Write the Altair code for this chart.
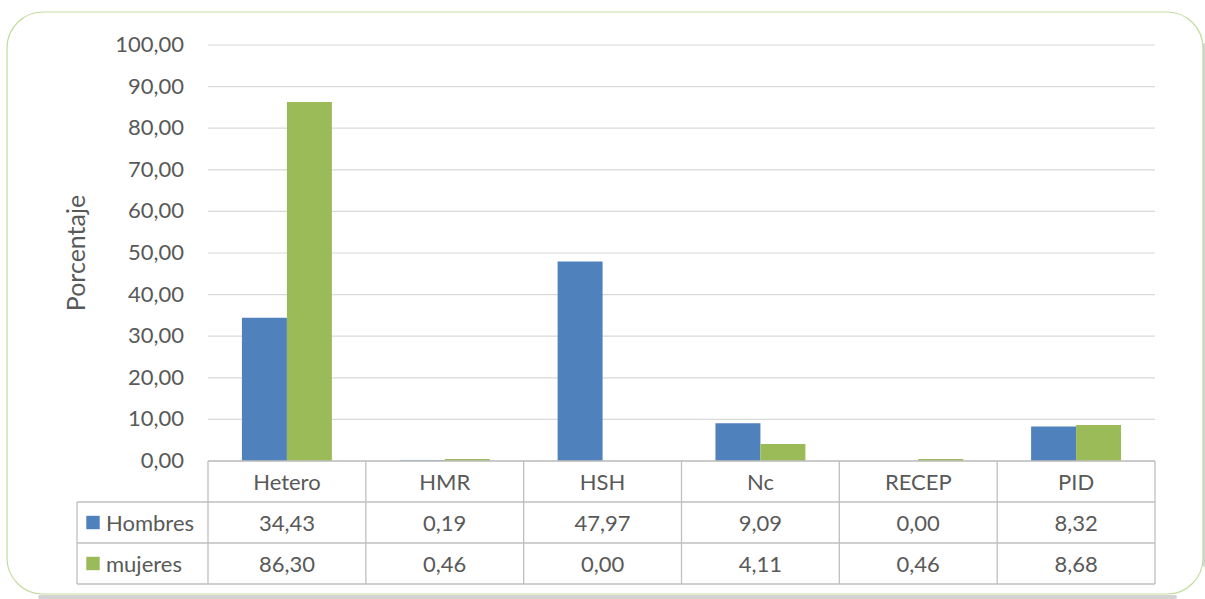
import altair as alt
import pandas as pd

# Categories and the two series shown in the chart and in its data table
categories = ["Hetero", "HMR", "HSH", "Nc", "RECEP", "PID"]
series = ["Hombres", "mujeres"]
hombres = [34.43, 0.19, 47.97, 9.09, 0.00, 8.32]
mujeres = [86.30, 0.46, 0.00, 4.11, 0.46, 8.68]
y_ticks = [0, 10, 20, 30, 40, 50, 60, 70, 80, 90, 100]
y_title = "Porcentaje"

# Styling
colors = ["#4F81BD", "#9BBB59"]
FONT = "Lato"
TEXT = "#595959"
LINE = "#BFBFBF"
GRID = "#D9D9D9"
W, H = 947, 416            # plot area
PAD_L, PAD_T = 208, 45

# Layout of each category slot (one x unit): outer gap, then two bars side by side
GAP = 0.215
BAR = 0.285
# Data table: row height in pixels expressed in y-axis units; label column width in slots
ROW = 41 * 100 / H
LABEL_LEFT = -0.83

n = len(categories)
xs = alt.Scale(domain=[0, n], nice=False, zero=False)
ys = alt.Scale(domain=[0, 100], nice=False, zero=False)
cs = alt.Scale(domain=series, range=colors)

def fmt(v):
    return f"{v:.2f}".replace(".", ",")

bars_df = pd.DataFrame(
    [{"cat": c, "series": s, "value": v,
      "x0": i + GAP + k * BAR, "x1": i + GAP + (k + 1) * BAR}
     for k, (s, vals) in enumerate(zip(series, [hombres, mujeres]))
     for i, (c, v) in enumerate(zip(categories, vals))]
)

# --- rounded frame with a soft drop shadow along bottom and right -------
bg = pd.DataFrame({"k": [0]})
shadow_b = alt.Chart(bg).mark_rule(color="#C0C0C0", strokeWidth=4, opacity=0.7, strokeCap="round").encode(
    x=alt.value(40 - PAD_L), x2=alt.value(1175 - PAD_L),
    y=alt.value(597 - PAD_T),
)
shadow_r = alt.Chart(bg).mark_rule(color="#C0C0C0", strokeWidth=4, opacity=0.7, strokeCap="round").encode(
    x=alt.value(1205 - PAD_L), y=alt.value(45 - PAD_T), y2=alt.value(565 - PAD_T),
)
frame = alt.Chart(bg).mark_rect(cornerRadius=36, fill="white", fillOpacity=0,
                                stroke="#C4DCA0", strokeWidth=1.2).encode(
    x=alt.value(7 - PAD_L), x2=alt.value(1203 - PAD_L),
    y=alt.value(12 - PAD_T), y2=alt.value(594 - PAD_T),
)

# --- value axis: gridlines, tick labels and rotated title --------------
ticks_df = pd.DataFrame({"v": y_ticks, "label": [fmt(t) for t in y_ticks], "x": 0})

gridlines = alt.Chart(ticks_df).mark_rule(color=GRID, strokeWidth=1.2).encode(
    y=alt.Y("v:Q", scale=ys, axis=None)
)

tick_labels = alt.Chart(ticks_df).mark_text(
    font=FONT, fontSize=22, color=TEXT, align="right", baseline="middle", dx=-24
).encode(
    x=alt.X("x:Q", scale=xs, axis=None),
    y=alt.Y("v:Q", scale=ys, axis=None),
    text="label:N",
)

title_df = pd.DataFrame({"label": [y_title], "x": [LABEL_LEFT], "y": [50]})
axis_title = alt.Chart(title_df).mark_text(
    font=FONT, fontSize=25, color=TEXT, align="center", baseline="middle", angle=270
).encode(
    x=alt.X("x:Q", scale=xs, axis=None),
    y=alt.Y("y:Q", scale=ys, axis=None),
    text="label:N",
)

# --- clustered bars ----------------------------------------------------
bars = alt.Chart(bars_df).mark_bar().encode(
    x=alt.X("x0:Q", scale=xs, axis=None),
    x2="x1:Q",
    y=alt.Y("value:Q", scale=ys, axis=None),
    y2=alt.Y2(datum=0),
    color=alt.Color("series:N", scale=cs, legend=None),
)

# --- data table below the plot ----------------------------------------
lines = [{"x1": 0, "x2": n, "y1": 0, "y2": 0}]
for r in (1, 2, 3):
    lines.append({"x1": LABEL_LEFT, "x2": n, "y1": -r * ROW, "y2": -r * ROW})
for i in range(n + 1):
    lines.append({"x1": i, "x2": i, "y1": 0, "y2": -3 * ROW})
lines.append({"x1": LABEL_LEFT, "x2": LABEL_LEFT, "y1": -ROW, "y2": -3 * ROW})
lines_df = pd.DataFrame(lines)

table_lines = alt.Chart(lines_df).mark_rule(color=LINE, strokeWidth=1.3).encode(
    x=alt.X("x1:Q", scale=xs, axis=None), x2="x2:Q",
    y=alt.Y("y1:Q", scale=ys, axis=None), y2="y2:Q",
)

cells = [{"xc": i + 0.5, "yc": -0.5 * ROW, "label": c} for i, c in enumerate(categories)]
for r, vals in enumerate([hombres, mujeres], start=1):
    for i, v in enumerate(vals):
        cells.append({"xc": i + 0.5, "yc": -(r + 0.5) * ROW, "label": fmt(v)})
cells_df = pd.DataFrame(cells)

cell_text = alt.Chart(cells_df).mark_text(
    font=FONT, fontSize=22, color=TEXT, align="center", baseline="middle", dy=1
).encode(
    x=alt.X("xc:Q", scale=xs, axis=None),
    y=alt.Y("yc:Q", scale=ys, axis=None),
    text="label:N",
)

rows_df = pd.DataFrame({"series": series,
                        "xc": [LABEL_LEFT, LABEL_LEFT],
                        "yc": [-1.5 * ROW, -2.5 * ROW]})

row_keys = alt.Chart(rows_df).mark_square(size=180, opacity=1, xOffset=16).encode(
    x=alt.X("xc:Q", scale=xs, axis=None),
    y=alt.Y("yc:Q", scale=ys, axis=None),
    color=alt.Color("series:N", scale=cs, legend=None),
)

row_text = alt.Chart(rows_df).mark_text(
    font=FONT, fontSize=22, color=TEXT, align="left", baseline="middle", dx=29, dy=1
).encode(
    x=alt.X("xc:Q", scale=xs, axis=None),
    y=alt.Y("yc:Q", scale=ys, axis=None),
    text="series:N",
)

chart = alt.layer(
    shadow_b, shadow_r, frame, gridlines, tick_labels, axis_title, bars,
    table_lines, cell_text, row_keys, row_text
).properties(
    width=W, height=H,
    autosize=alt.AutoSizeParams(type="none"),
    padding={"left": PAD_L, "top": PAD_T, "right": 1205 - PAD_L - W, "bottom": 599 - PAD_T - H},
    background="white",
).configure_view(stroke=None)

chart.save("out.html", embed_options={"renderer": "svg", "actions": False})
